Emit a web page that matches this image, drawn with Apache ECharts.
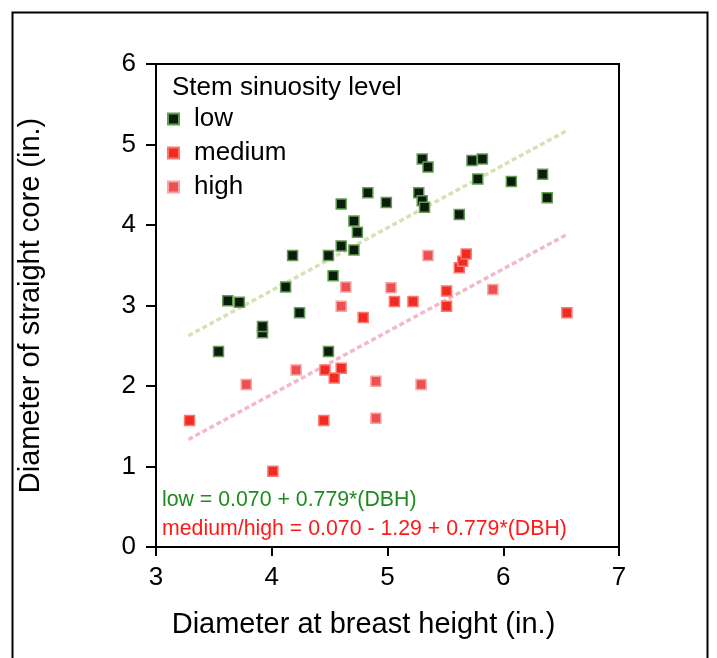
<!DOCTYPE html>
<html><head><meta charset="utf-8">
<script src="https://cdn.jsdelivr.net/npm/echarts@6/dist/echarts.min.js"></script>
<style>html,body{margin:0;padding:0;background:#fff;}#c{width:717px;height:658px;}</style>
</head><body><div id="c"></div>
<script>
// Data
const lowPoints = [[3.54,2.43],[3.62,3.06],[3.72,3.04],[3.92,2.66],[3.92,2.74],[4.12,3.23],[4.18,3.62],[4.24,2.91],[4.49,3.62],[4.49,2.43],[4.53,3.37],[4.60,3.74],[4.60,4.26],[4.71,3.69],[4.71,4.05],[4.74,3.91],[4.83,4.40],[4.99,4.28],[5.27,4.40],[5.30,4.30],[5.32,4.22],[5.30,4.82],[5.35,4.72],[5.62,4.13],[5.73,4.80],[5.82,4.82],[5.78,4.57],[6.07,4.54],[6.34,4.63],[6.38,4.34]];
const mediumPoints = [[3.29,1.57],[4.01,0.94],[4.45,1.57],[4.46,2.20],[4.54,2.10],[4.60,2.22],[4.79,2.85],[5.06,3.05],[5.22,3.05],[5.51,3.18],[5.51,2.99],[5.62,3.47],[5.65,3.55],[5.68,3.64],[6.55,2.91]];
const highPoints = [[3.78,2.02],[4.21,2.20],[4.60,2.99],[4.64,3.23],[4.90,2.06],[4.90,1.60],[5.03,3.22],[5.29,2.02],[5.35,3.62],[5.91,3.20]];
const seriesNames = ['low','medium','high'];
const fitIntercepts = [0.070, 0.070 - 1.29];
const fitSlope = 0.779;
const fitRange = [3.28, 6.55];
const xTicks = [3,4,5,6,7];
const yTicks = [0,1,2,3,4,5,6];
const eqTexts = ['low = 0.070 + 0.779*(DBH)', 'medium/high = 0.070 - 1.29 + 0.779*(DBH)'];

const fitLine = (b) => fitRange.map(x => [x, b + fitSlope * x]);
const font = 'Liberation Sans, Arial, sans-serif';
const chart = echarts.init(document.getElementById('c'));
chart.setOption({
  animation: false,
  backgroundColor: '#fff',
  grid: { left: 156, right: 98, top: 64, bottom: 111, show: true, borderColor: '#000', borderWidth: 2, backgroundColor: '#fff' },
  title: { text: 'Stem sinuosity level', left: 167, top: 70, textStyle: { fontFamily: font, fontSize: 26, fontWeight: 'normal', color: '#000' } },
  legend: {
    data: seriesNames, orient: 'vertical', left: 162, top: 101, itemGap: 8, itemWidth: 11, itemHeight: 11,
    textStyle: { fontFamily: font, fontSize: 26, color: '#000', padding: [0,0,0,10] }
  },
  xAxis: {
    type: 'value', min: xTicks[0], max: xTicks[xTicks.length-1], interval: 1,
    name: 'Diameter at breast height (in.)', nameLocation: 'middle', nameGap: 63,
    nameTextStyle: { fontFamily: font, fontSize: 29, color: '#000', padding: [0, 48, 0, 0] },
    axisLine: { lineStyle: { color: '#000', width: 2 } },
    axisTick: { show: true, length: 9, lineStyle: { color: '#000', width: 2 } },
    axisLabel: { fontFamily: font, fontSize: 26, color: '#000', margin: 18 },
    splitLine: { show: false }
  },
  yAxis: {
    type: 'value', min: yTicks[0], max: yTicks[yTicks.length-1], interval: 1,
    name: 'Diameter of straight core (in.)', nameLocation: 'middle', nameGap: 111,
    nameTextStyle: { fontFamily: font, fontSize: 29, color: '#000' },
    axisLine: { lineStyle: { color: '#000', width: 2 } },
    axisTick: { show: true, length: 10, lineStyle: { color: '#000', width: 2 } },
    axisLabel: { fontFamily: font, fontSize: 26, color: '#000', margin: 20 },
    splitLine: { show: false }
  },
  graphic: [
    { type: 'rect', left: 10, top: 10, shape: { width: 695, height: 660 }, style: { fill: 'none', stroke: '#000', lineWidth: 2 }, z: -1 },
    { type: 'text', left: 162, top: 490, style: { text: eqTexts[0], fill: '#1f8a1f', font: '21.3px ' + font } , z: 10},
    { type: 'text', left: 162, top: 519, style: { text: eqTexts[1], fill: '#ff1a1a', font: '21.3px ' + font } , z: 10}
  ],
  series: [
    { name: 'lowfit', type: 'line', data: fitLine(fitIntercepts[0]), symbol: 'none', silent: true, z: 1,
      lineStyle: { color: '#d6e2b6', width: 3.5, type: [5,3] } },
    { name: 'medfit', type: 'line', data: fitLine(fitIntercepts[1]), symbol: 'none', silent: true, z: 1,
      lineStyle: { color: '#f4b8cc', width: 3.5, type: [5,3] } },
    { name: seriesNames[0], type: 'scatter', data: lowPoints, symbol: 'rect', symbolSize: 10, z: 3,
      itemStyle: { color: '#0c1c0c', borderColor: '#5f9e50', borderWidth: 1.5, opacity: 1 } },
    { name: seriesNames[1], type: 'scatter', data: mediumPoints, symbol: 'rect', symbolSize: 10, z: 3,
      itemStyle: { color: '#f22a22', borderColor: '#f77a70', borderWidth: 1.5, opacity: 1 } },
    { name: seriesNames[2], type: 'scatter', data: highPoints, symbol: 'rect', symbolSize: 10, z: 3,
      itemStyle: { color: '#ee5050', borderColor: '#f6a4a4', borderWidth: 1.5, opacity: 1 } }
  ]
});
</script></body></html>
